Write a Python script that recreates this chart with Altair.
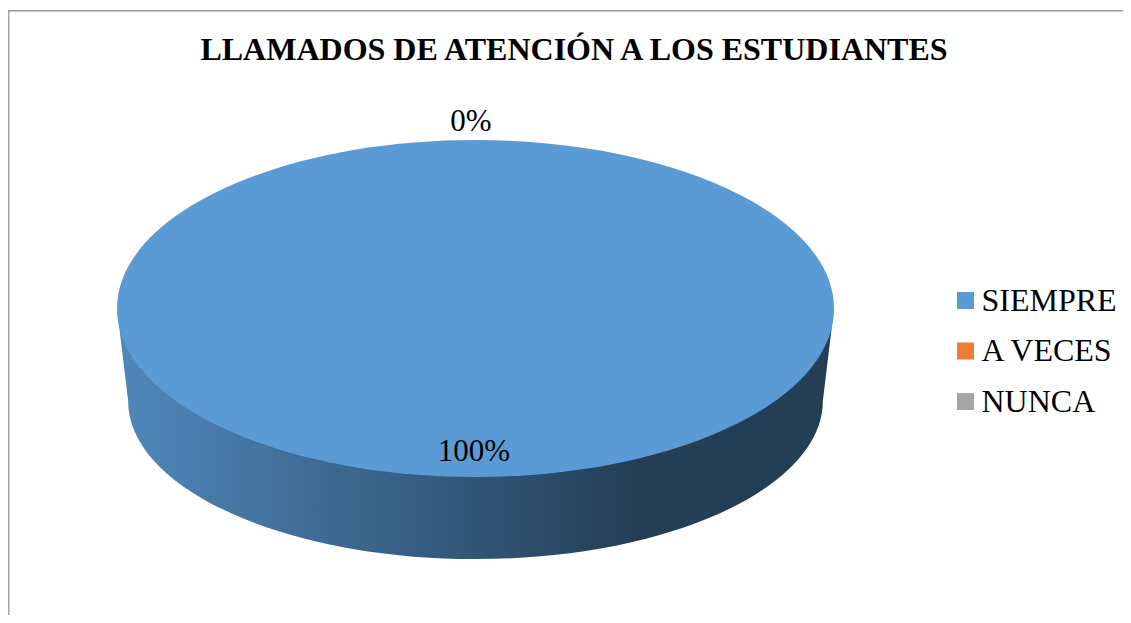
import altair as alt
import pandas as pd

# Values
TITLE = "LLAMADOS DE ATENCIÓN A LOS ESTUDIANTES"
categories = ["SIEMPRE", "A VECES", "NUNCA"]
shares = [100, 0, 0]
colors = ["#5B9BD5", "#ED7D31", "#A5A5A5"]

SERIF = "Liberation Serif"
W, H = 1115, 607
CX, CY = 467.5, 300.5
RX = 358.5
SIZE = (2 * RX) ** 2

# Pie drawn as a tilted disc: shapes in units of RX
TOP_SHAPE = "M-1,0A1,0.47 0 1 1 1,0A1,0.47 0 1 1 -1,0Z"
SIDE_SHAPE = "M-1,0L-0.969,0.257A0.969,0.442 0 0 0 0.969,0.257L1,0Z"

df = pd.DataFrame({"categoria": categories, "porcentaje": shares})
df["texto"] = df["porcentaje"].astype(str) + "%"
frame = pd.DataFrame({"categoria": categories[:1]})

side_gradient = alt.Gradient(
    gradient="linear",
    stops=[
        alt.GradientStop(offset=0, color="#5088BC"),
        alt.GradientStop(offset=0.73, color="#233E55"),
        alt.GradientStop(offset=1, color="#233E55"),
    ],
    x1=0, x2=1, y1=0, y2=0,
)

left_edge = alt.Chart(frame).mark_rule(color="#A6A6A6", strokeWidth=1.5).encode(
    x=alt.value(0.75), y=alt.value(2), y2=alt.value(H)
)
top_edge = alt.Chart(frame).mark_rule(color="#969696", strokeWidth=1.5).encode(
    x=alt.value(0), x2=alt.value(W), y=alt.value(2.7)
)

whole = alt.Chart(df).transform_filter("datum.porcentaje > 0")

side = whole.mark_point(
    filled=True, shape=SIDE_SHAPE, fill=side_gradient, opacity=1, strokeWidth=0
).encode(x=alt.value(CX), y=alt.value(CY), size=alt.value(SIZE))

top = whole.mark_point(
    filled=True, shape=TOP_SHAPE, opacity=1, strokeWidth=0
).encode(
    x=alt.value(CX),
    y=alt.value(CY),
    size=alt.value(SIZE),
    color=alt.Color(
        "categoria:N",
        scale=alt.Scale(domain=categories, range=colors),
        legend=alt.Legend(
            title=None,
            orient="none",
            legendX=941.5,
            legendY=276.5,
            symbolType="square",
            symbolSize=289,
            symbolStrokeWidth=0,
            symbolOpacity=1,
            labelFont=SERIF,
            labelFontSize=32,
            labelColor="#000000",
            labelOffset=0,
            labelLimit=300,
            rowPadding=18.5,
        ),
    ),
)

pct_style = dict(font=SERIF, fontSize=31, color="#000000", align="center", baseline="alphabetic")

pct_full = whole.mark_text(**pct_style).encode(
    x=alt.value(466), y=alt.value(453), text="texto:N"
)
pct_zero = alt.Chart(df).transform_filter("datum.categoria == 'A VECES'").mark_text(**pct_style).encode(
    x=alt.value(463), y=alt.value(123), text="texto:N"
)

chart = alt.layer(left_edge, top_edge, side, top, pct_full, pct_zero).properties(
    width=W,
    height=H,
    padding=0,
    background="white",
    autosize=alt.AutoSizeParams(type="none"),
    title=alt.Title(
        TITLE,
        font=SERIF,
        fontSize=32,
        fontWeight="bold",
        color="#000000",
        anchor="middle",
        frame="group",
        baseline="alphabetic",
        offset=0,
        dx=8.5,
        dy=84,
    ),
).configure_view(stroke=None)

chart.save("out.html", embed_options={"renderer": "svg", "actions": False})
